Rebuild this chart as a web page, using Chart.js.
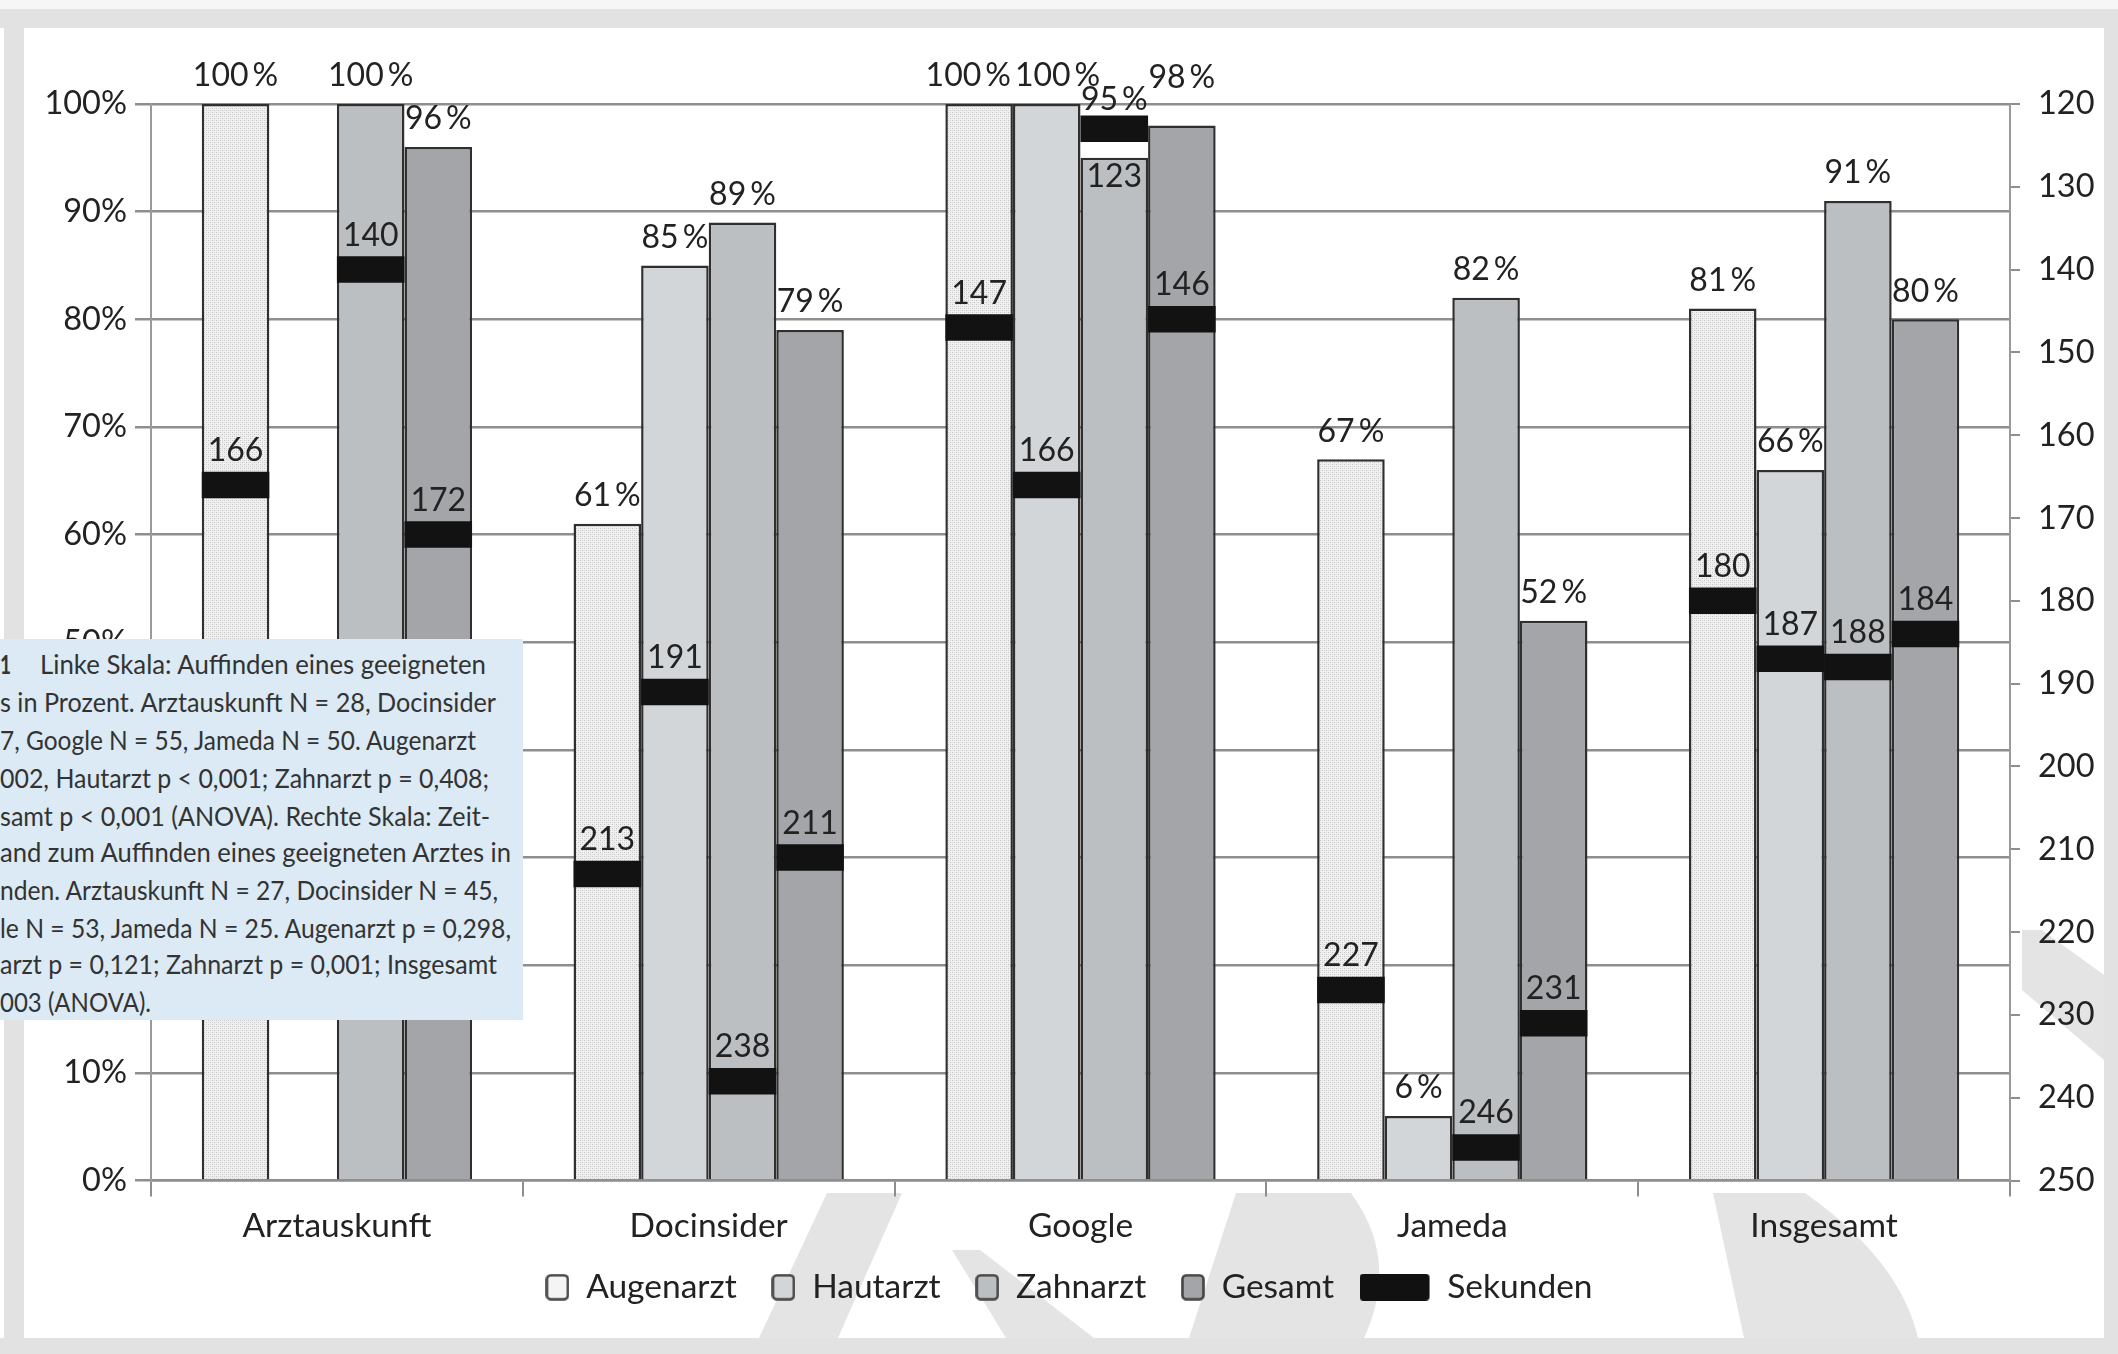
<!DOCTYPE html>
<html><head><meta charset="utf-8">
<script src="https://cdn.jsdelivr.net/npm/chart.js@4.4.1/dist/chart.umd.min.js"></script>
<style>
html,body{margin:0;padding:0;background:#fff;}
#wrap{position:relative;width:2118px;height:1354px;overflow:hidden;background:#fff;}
#bg{position:absolute;left:0;top:0;}
#c{position:absolute;left:0;top:0;}
#cap{position:absolute;left:0;top:639px;width:523px;height:381px;background:#dbeaf4;}
#cap text{font-family:Lato,sans-serif;font-size:27.5px;fill:#333;}
</style></head><body>
<div id="wrap">
<svg id="bg" width="2118" height="1354">
  <rect x="0" y="0" width="2118" height="9" fill="#f6f6f6"/>
  <rect x="0" y="9" width="2118" height="19" fill="#e2e2e2"/>
  <rect x="4" y="9" width="20" height="1345" fill="#e2e2e2"/>
  <rect x="2104" y="9" width="14" height="1345" fill="#e2e2e2"/>
  <rect x="0" y="1338" width="2118" height="16" fill="#e2e2e2"/>
  <g fill="#e4e4e4">
    <polygon points="827,1193 902,1193 838,1338 759,1338"/>
    <polygon points="952,1250 980,1250 1094,1338 1006,1338"/>
    <path d="M1236,1193 L1351,1193 Q1400,1260 1364,1338 L1189,1338 Z"/>
    <path d="M1713,1193 L1805,1193 Q1900,1260 1918,1338 L1744,1338 Z"/>
    <polygon points="2022,930 2042,930 2104,975 2104,1060 2022,990"/>
  </g>
</svg>
<canvas id="c" width="2118" height="1354"></canvas>
<svg id="cap" width="523" height="381">
  <text x="0" y="24" dominant-baseline="central" font-weight="bold" textLength="11" lengthAdjust="spacingAndGlyphs">1</text>
  <text x="40" y="24" dominant-baseline="central" textLength="446" lengthAdjust="spacingAndGlyphs">Linke Skala: Auffinden eines geeigneten</text>
  <text x="0" y="62" dominant-baseline="central" textLength="496" lengthAdjust="spacingAndGlyphs">s in Prozent. Arztauskunft N = 28, Docinsider</text>
  <text x="0" y="100" dominant-baseline="central" textLength="476" lengthAdjust="spacingAndGlyphs">7, Google N = 55, Jameda N = 50. Augenarzt</text>
  <text x="0" y="138" dominant-baseline="central" textLength="489" lengthAdjust="spacingAndGlyphs">002, Hautarzt p &lt; 0,001; Zahnarzt p = 0,408;</text>
  <text x="0" y="176" dominant-baseline="central" textLength="490" lengthAdjust="spacingAndGlyphs">samt p &lt; 0,001 (ANOVA). Rechte Skala: Zeit-</text>
  <text x="0" y="212" dominant-baseline="central" textLength="511" lengthAdjust="spacingAndGlyphs">and zum Auffinden eines geeigneten Arztes in</text>
  <text x="0" y="250" dominant-baseline="central" textLength="498" lengthAdjust="spacingAndGlyphs">nden. Arztauskunft N = 27, Docinsider N = 45,</text>
  <text x="0" y="288" dominant-baseline="central" textLength="511" lengthAdjust="spacingAndGlyphs">le N = 53, Jameda N = 25. Augenarzt p = 0,298,</text>
  <text x="0" y="324" dominant-baseline="central" textLength="497" lengthAdjust="spacingAndGlyphs">arzt p = 0,121; Zahnarzt p = 0,001; Insgesamt</text>
  <text x="0" y="362" dominant-baseline="central" textLength="151" lengthAdjust="spacingAndGlyphs">003 (ANOVA).</text>
</svg>
</div>
<script>
// ---- data ----
const categories = ['Arztauskunft', 'Docinsider', 'Google', 'Jameda', 'Insgesamt'];
const seriesNames = ['Augenarzt', 'Hautarzt', 'Zahnarzt', 'Gesamt'];
const augenarztPct = [100, 61, 100, 67, 81];
const hautarztPct  = [null, 85, 100, 6, 66];
const zahnarztPct  = [100, 89, 95, 82, 91];
const gesamtPct    = [96, 79, 98, 52, 80];
const augenarztSec = [166, 213, 147, 227, 180];
const hautarztSec  = [null, 191, 166, null, 187];
const zahnarztSec  = [140, 238, 123, 246, 188];
const gesamtSec    = [172, 211, 146, 231, 184];
const secondsLabel = 'Sekunden';
const pctTickStep = 10;
const secTickStep = 10;

const pctSeries = [augenarztPct, hautarztPct, zahnarztPct, gesamtPct];
const secSeries = [augenarztSec, hautarztSec, zahnarztSec, gesamtSec];

// ---- styles ----
const FONT = 'Lato';
const TEXT = '#222';
const GRID = '#8e8e8e';
const MARK_HALF = 1.6; // half height of the seconds marker, in seconds
const stackKeys = ['a', 'b', 'c', 'd'];
const EN = '\u2002';
const THIN = '\u2009';

function makePattern() {
  const t = document.createElement('canvas');
  t.width = 4; t.height = 4;
  const g = t.getContext('2d');
  g.fillStyle = '#f0f0f0'; g.fillRect(0, 0, 4, 4);
  g.fillStyle = '#c2c2c2';
  g.fillRect(0, 0, 1, 1); g.fillRect(2, 2, 1, 1);
  g.fillStyle = '#dcdcdc';
  g.fillRect(2, 0, 1, 1); g.fillRect(0, 2, 1, 1);
  return document.getElementById('c').getContext('2d').createPattern(t, 'repeat');
}
const augPattern = makePattern();
const fills = [augPattern, '#d3d6d9', '#bcbfc2', '#a3a5a8'];
const legendFills = ['#f4f4f4', '#d3d6d9', '#bcbfc2', '#a3a5a8'];

function legendSquare(fill) {
  const c = document.createElement('canvas');
  c.width = 24; c.height = 27;
  const g = c.getContext('2d');
  g.beginPath();
  if (g.roundRect) g.roundRect(1.5, 1.5, 21, 24, 4); else g.rect(1.5, 1.5, 21, 24);
  g.fillStyle = fill; g.fill();
  g.lineWidth = 2.6; g.strokeStyle = '#444'; g.stroke();
  return c;
}
function legendBlack() {
  const c = document.createElement('canvas');
  c.width = 118; c.height = 27;
  const g = c.getContext('2d');
  g.beginPath();
  if (g.roundRect) g.roundRect(0, 0, 70, 27, 4); else g.rect(0, 0, 70, 27);
  g.fillStyle = '#111'; g.fill();
  return c;
}
const legendImgs = legendFills.map(legendSquare);
const legendSec = legendBlack();

// marker datasets first (drawn on top via order 0)
const markerSets = secSeries.map((arr, j) => ({
  label: secondsLabel,
  data: arr.map(s => s == null ? null : [s - MARK_HALF, s + MARK_HALF]),
  yAxisID: 'y2',
  stack: stackKeys[j],
  backgroundColor: '#121212',
  borderWidth: 0,
  order: 0
}));
const barSets = pctSeries.map((arr, j) => ({
  label: seriesNames[j],
  data: arr,
  yAxisID: 'y',
  stack: stackKeys[j],
  backgroundColor: fills[j],
  borderColor: '#2f2f2f',
  borderWidth: 2.5,
  order: 1
}));

const valueLabels = {
  id: 'valueLabels',
  afterDatasetsDraw(chart) {
    const ctx = chart.ctx;
    ctx.save();
    ctx.font = '32px ' + FONT;
    ctx.fillStyle = TEXT;
    ctx.textAlign = 'center';
    ctx.textBaseline = 'middle';
    categories.forEach((cat, i) => {
      const labels = [];
      for (let j = 0; j < 4; j++) {
        const v = pctSeries[j][i];
        const s = secSeries[j][i];
        const bar = chart.getDatasetMeta(4 + j).data[i];
        let mTop = null, mBot = null;
        if (s != null) {
          const mk = chart.getDatasetMeta(j).data[i];
          mTop = Math.min(mk.y, mk.base); mBot = Math.max(mk.y, mk.base);
        }
        let secAbove = true;
        if (v != null) {
          let cy = bar.y - 28;
          if (mTop !== null && mTop < bar.y + 4) { cy = Math.min(cy, mTop - 16); secAbove = false; }
          const text = v + THIN + '%';
          labels.push({ j, v, x: bar.x, y: cy, text, w: ctx.measureText(text).width });
        }
        if (s != null) {
          const sy = secAbove ? mTop - 21 : Math.max(mBot, bar.y) + 19;
          ctx.fillText(String(s), bar.x, sy);
        }
      }
      for (let k = 1; k < labels.length; k++) {
        const a = labels[k - 1], b = labels[k];
        if (b.j !== a.j + 1) continue;
        const ov = (a.x + a.w / 2) - (b.x - b.w / 2) + 4;
        if (ov <= 0 || Math.abs(a.y - b.y) >= 22) continue;
        if (a.v === b.v) { a.x -= ov / 2; b.x += ov / 2; }
        else {
          const hi = a.v > b.v ? a : b, lo = hi === a ? b : a;
          hi.y = Math.min(hi.y, lo.y - 22);
        }
      }
      labels.forEach(l => ctx.fillText(l.text, l.x, l.y));
    });
    ctx.restore();
  }
};

Chart.defaults.font.family = FONT;
Chart.defaults.color = TEXT;

new Chart(document.getElementById('c'), {
  type: 'bar',
  data: { labels: categories, datasets: markerSets.concat(barSets) },
  options: {
    responsive: false,
    devicePixelRatio: 1,
    animation: false,
    events: [],
    categoryPercentage: 0.727,
    barPercentage: 1,
    layout: { padding: { top: 104, left: 20, right: 0, bottom: 40 } },
    scales: {
      x: {
        grid: { display: true, drawOnChartArea: false, drawTicks: true, tickLength: 16, color: GRID, lineWidth: 2, offset: true },
        border: { display: true, color: GRID, width: 2.5 },
        ticks: { font: { size: 33.5, family: FONT }, color: TEXT, padding: 10 },
        afterFit: s => { s.height = 72; }
      },
      y: {
        position: 'left', min: 0, max: 100, stacked: false,
        ticks: { stepSize: pctTickStep, callback: v => v + '%', font: { size: 32.5, family: FONT }, color: TEXT, padding: 8 },
        grid: { color: GRID, lineWidth: 2.5, tickLength: 16 },
        border: { display: true, color: '#9a9a9a', width: 2 },
        afterFit: s => { s.width = 131; }
      },
      y2: {
        position: 'right', min: 120, max: 250, reverse: true, stacked: false,
        ticks: { stepSize: secTickStep, font: { size: 32.5, family: FONT }, color: TEXT, padding: 18 },
        grid: { drawOnChartArea: false, tickLength: 10, color: GRID, lineWidth: 2 },
        border: { display: true, color: '#9a9a9a', width: 2 },
        afterFit: s => { s.width = 108; }
      }
    },
    plugins: {
      tooltip: { enabled: false },
      legend: {
        position: 'bottom',
        labels: {
          font: { size: 33.5, family: FONT }, color: TEXT,
          usePointStyle: true, boxWidth: 24, boxHeight: 27, padding: 18,
          generateLabels: () => seriesNames.map((n, j) => ({
            text: n + (j === 3 ? EN + EN + EN + THIN : EN),
            pointStyle: legendImgs[j], fillStyle: legendFills[j], strokeStyle: '#444',
            lineWidth: 0, hidden: false, datasetIndex: 4 + j, fontColor: TEXT
          })).concat([{
            text: secondsLabel, pointStyle: legendSec, fillStyle: '#111', strokeStyle: '#111',
            lineWidth: 0, hidden: false, datasetIndex: 0, fontColor: TEXT
          }])
        }
      }
    }
  },
  plugins: [valueLabels]
});
</script>
</body></html>
